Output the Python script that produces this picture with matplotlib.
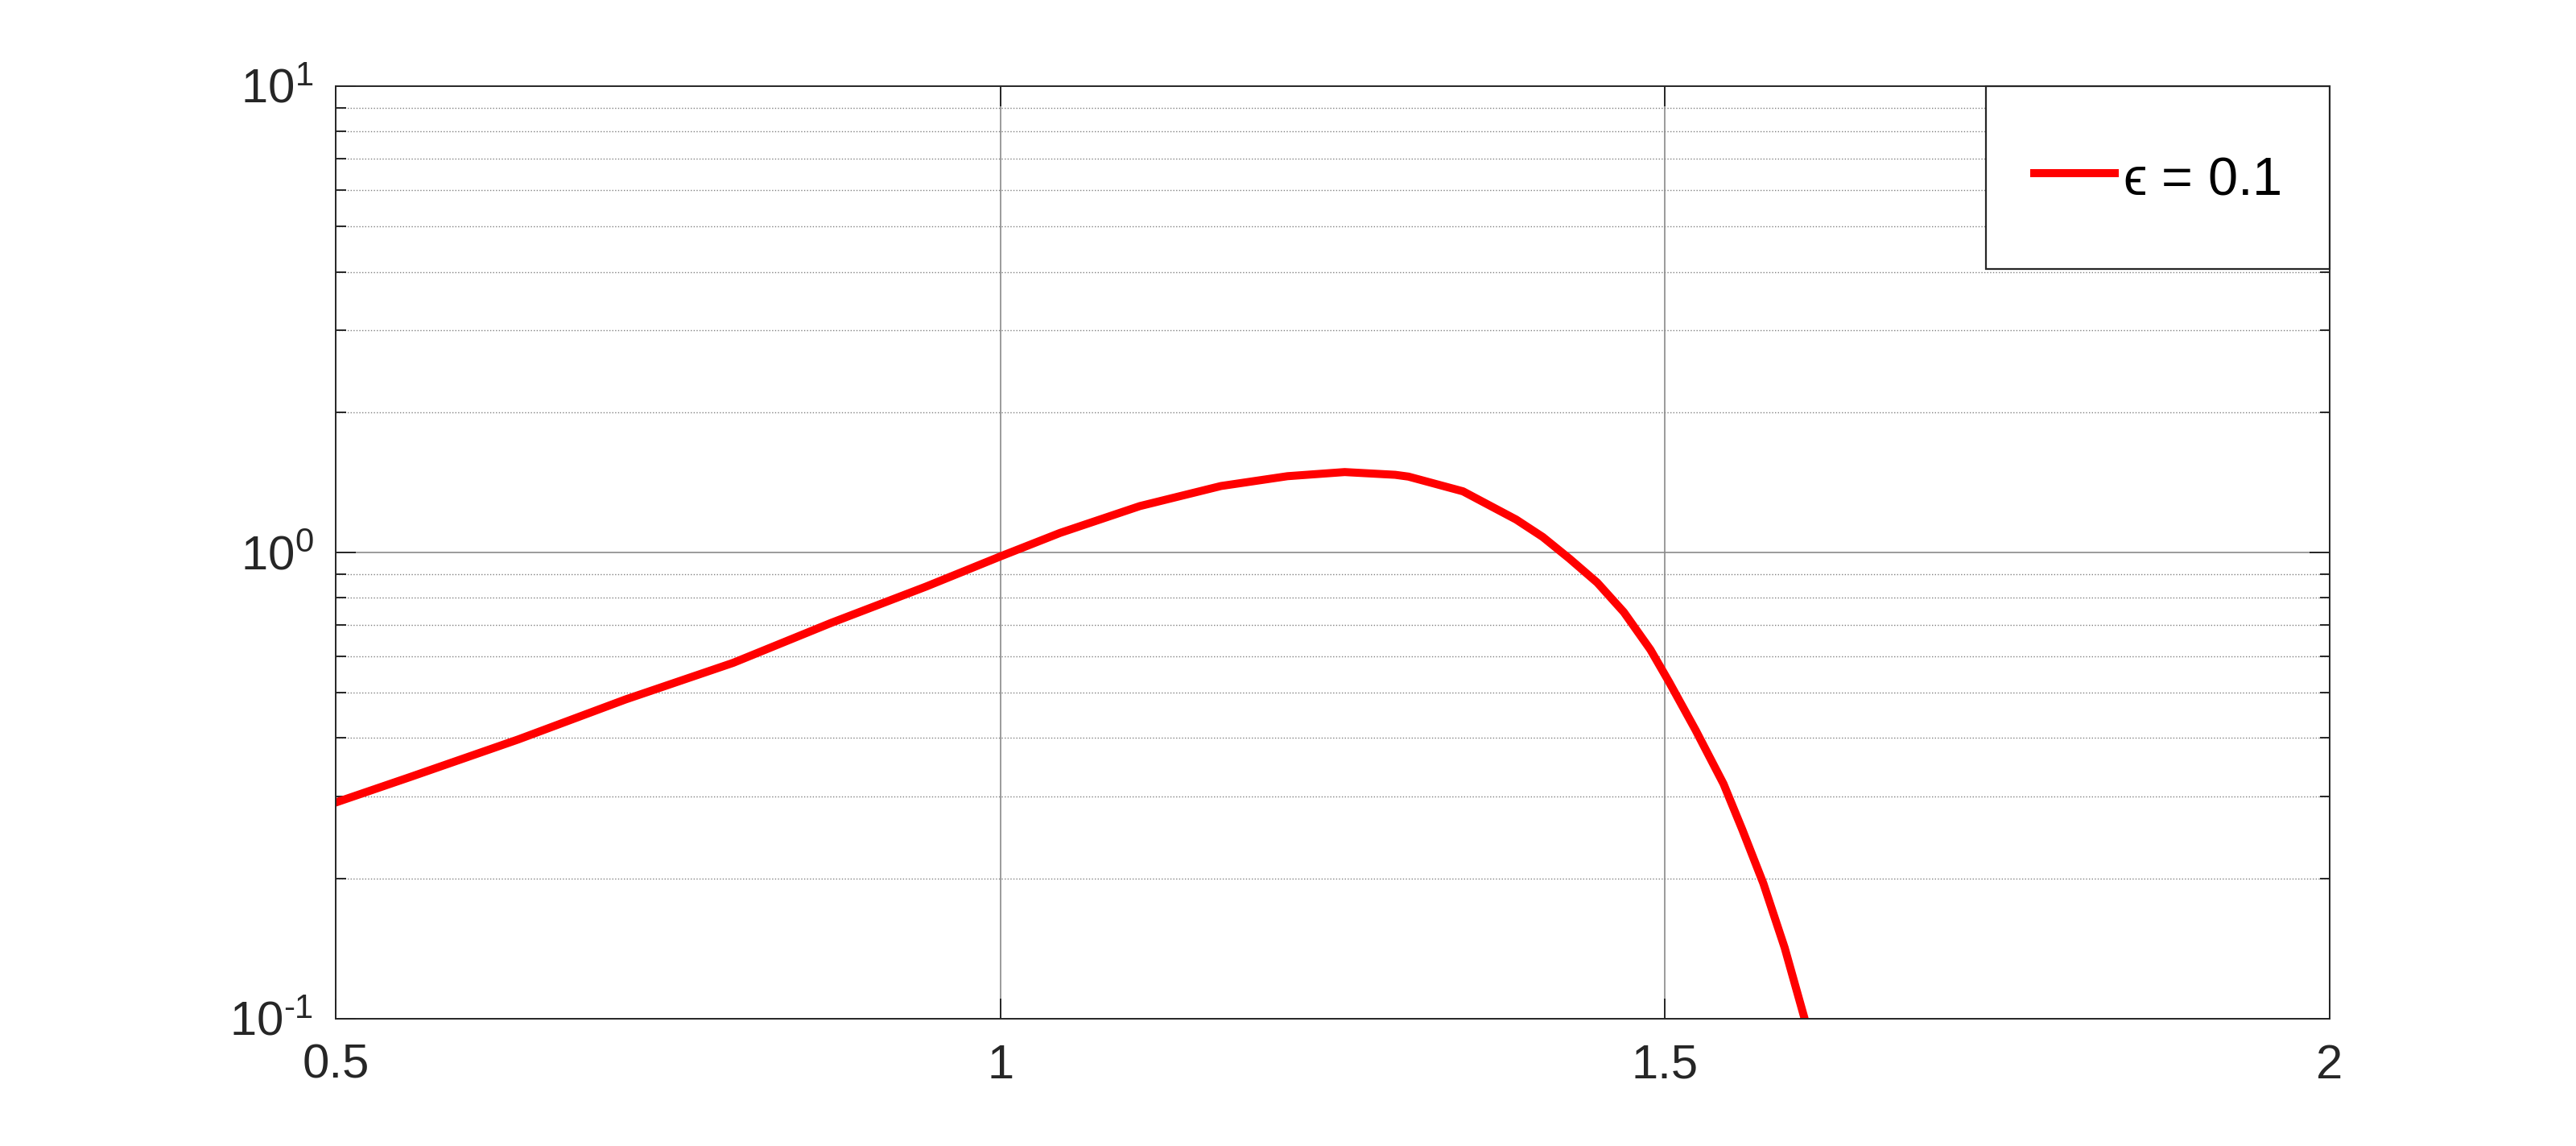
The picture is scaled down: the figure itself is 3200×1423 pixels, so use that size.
import matplotlib
matplotlib.use("Agg")
import matplotlib.pyplot as plt
from matplotlib.legend_handler import HandlerLine2D
from matplotlib.ticker import LogLocator, NullFormatter, FuncFormatter
import numpy as np

plt.rcParams["font.family"] = ["Liberation Sans", "DejaVu Sans"]
plt.rcParams["mathtext.fontset"] = "custom"
plt.rcParams["mathtext.rm"] = "Liberation Sans"
plt.rcParams["mathtext.it"] = "DejaVu Serif:italic"
plt.rcParams["mathtext.default"] = "regular"
plt.rcParams["axes.unicode_minus"] = False

# curve (log y axis)
x_vals = [0.500, 0.556, 0.637, 0.718, 0.799, 0.873, 0.944, 1.000, 1.045,
          1.105, 1.166, 1.216, 1.259, 1.297, 1.307, 1.348, 1.388, 1.408,
          1.428, 1.449, 1.469, 1.489, 1.503, 1.523, 1.544, 1.558, 1.574,
          1.590, 1.605]
y_vals = [0.291, 0.330, 0.397, 0.484, 0.580, 0.707, 0.845, 0.981, 1.102,
          1.258, 1.389, 1.458, 1.488, 1.468, 1.455, 1.353, 1.177, 1.080,
          0.971, 0.862, 0.745, 0.619, 0.528, 0.416, 0.319, 0.255, 0.195,
          0.142, 0.100]
series_label = "$\u03f5$ = 0.1"

x_ticks = [0.5, 1, 1.5, 2]
x_ticklabels = ["0.5", "1", "1.5", "2"]
y_ticks = [0.1, 1, 10]

dark = "#262626"


def pow_label(v, pos):
    e = int(round(np.log10(v)))
    if e < 0:
        return r"10$^{\text{-}%d}$" % (-e)
    return r"10$^{%d}$" % e


class LoweredLine(HandlerLine2D):
    # draw the legend sample a bit lower, level with the text
    def create_artists(self, legend, orig_handle, xdescent, ydescent,
                       width, height, fontsize, trans):
        artists = super().create_artists(legend, orig_handle, xdescent,
                                         ydescent, width, height, fontsize,
                                         trans)
        for a in artists:
            a.set_ydata(np.asarray(a.get_ydata()) - 0.16 * fontsize)
        return artists


fig = plt.figure(figsize=(16, 7.115), dpi=200)
ax = fig.add_axes([0.1303, 0.111, 0.7741, 0.8137])

line, = ax.plot(x_vals, y_vals, color="#ff0000", linewidth=3.6,
                label=series_label, solid_joinstyle="round")

ax.set_yscale("log")
ax.set_xlim(0.5, 2)
ax.set_ylim(0.1, 10)
ax.set_xticks(x_ticks)
ax.set_xticklabels(x_ticklabels)
ax.set_yticks(y_ticks)
ax.yaxis.set_major_formatter(FuncFormatter(pow_label))
ax.yaxis.set_minor_locator(LogLocator(base=10, subs=range(2, 10)))
ax.yaxis.set_minor_formatter(NullFormatter())

ax.grid(True, which="major", color="#8a8a8a", linewidth=0.6, linestyle="-")
ax.grid(True, which="minor", axis="y", color="#808080", linewidth=0.5,
        linestyle=(0, (1, 1.6)))
ax.set_axisbelow(True)

ax.tick_params(which="both", direction="in", top=True, right=True,
               colors=dark, labelcolor=dark, labelsize=21.5)
ax.tick_params(which="major", length=9, width=0.7)
ax.tick_params(which="minor", length=4.5, width=0.7)
ax.tick_params(axis="x", pad=11)
ax.tick_params(axis="y", pad=10)
for s in ax.spines.values():
    s.set_color(dark)
    s.set_linewidth(0.7)

leg = ax.legend(loc="upper right", fontsize=24, frameon=True, fancybox=False,
                borderaxespad=0, borderpad=0.9, handlelength=1.5,
                handleheight=2.1, handletextpad=0.15, framealpha=1,
                handler_map={line: LoweredLine()})
leg.get_frame().set_edgecolor(dark)
leg.get_frame().set_linewidth(0.8)

fig.savefig("out.png", dpi=200)
